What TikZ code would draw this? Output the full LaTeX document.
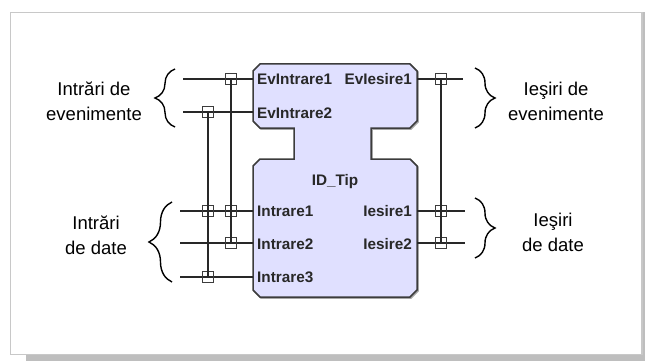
\documentclass[tikz,border=0pt]{standalone}
\usepackage{fontspec}
\setmainfont{Liberation Sans}
\usetikzlibrary{decorations.pathreplacing}
\definecolor{blockfill}{RGB}{224,224,255}
\definecolor{blockline}{RGB}{60,60,60}
\definecolor{wire}{RGB}{40,40,40}
\definecolor{framegray}{RGB}{200,200,200}
\definecolor{shadowgray}{RGB}{190,190,190}
\tikzset{
  wireline/.style={draw=wire, line width=1.3pt},
  jbox/.style={draw=blockline, line width=1.1pt, minimum size=11pt, inner sep=0pt, fill=none},
  portlbl/.style={font=\fontsize{15.3}{17}\bfseries\selectfont, text=wire, inner sep=0pt},
  sidelbl/.style={font=\fontsize{18.5}{25}\selectfont, align=center, inner sep=0pt},
  bracel/.style={decorate, decoration={brace, amplitude=#1}, line width=1.4pt, draw=black},
}
\begin{document}
\begin{tikzpicture}[x=1pt, y=-1pt]
\useasboundingbox (0,0) rectangle (645,361);
% frame
\fill[white] (0,0) rectangle (645,361);
\fill[shadowgray] (26,355) rectangle (645,361);
\fill[shadowgray] (642.5,12) rectangle (645,361);
\draw[framegray, line width=1.5pt] (10.5,12.5) rectangle (642,354.5);
% block
\def\blockpath{(260,64) -- (410,64) -- (417,71) -- (417,121) -- (410,128) -- (371,128) -- (371,159) -- (410,159) -- (417,166) -- (417,290) -- (410,297) -- (260,297) -- (253,290) -- (253,166) -- (260,159) -- (294,159) -- (294,128) -- (260,128) -- (253,121) -- (253,71) -- cycle}
\draw[gray!70, line width=1.5pt, shift={(1,1)}] \blockpath;
\draw[fill=blockfill, draw=blockline, line width=1.5pt] \blockpath;
% block texts
\node[portlbl, anchor=west] (tei1) at (257,79) {EvIntrare1};
\node[portlbl, anchor=west] (tei2) at (257,113) {EvIntrare2};
\node[portlbl, anchor=east] (teo1) at (412,79) {EvIesire1};
\node[portlbl] (ttype) at (335,182) {ID\_Tip};
\node[portlbl, anchor=west] (tdi1) at (257,211) {Intrare1};
\node[portlbl, anchor=west] (tdi2) at (257,244) {Intrare2};
\node[portlbl, anchor=west] (tdi3) at (257,277) {Intrare3};
\node[portlbl, anchor=east] (tdo1) at (412,211) {Iesire1};
\node[portlbl, anchor=east] (tdo2) at (412,244) {Iesire2};
% port end coordinates
\coordinate (ei1a) at (183,79);  \coordinate (ei1b) at (253,79);
\coordinate (ei2a) at (183,112); \coordinate (ei2b) at (253,112);
\coordinate (di1a) at (180,211); \coordinate (di1b) at (253,211);
\coordinate (di2a) at (180,243); \coordinate (di2b) at (253,243);
\coordinate (di3a) at (180,277); \coordinate (di3b) at (253,277);
\coordinate (eo1a) at (417,79);  \coordinate (eo1b) at (463,79);
\coordinate (do1a) at (417,211); \coordinate (do1b) at (465,211);
\coordinate (do2a) at (417,243); \coordinate (do2b) at (465,243);
% wires
\draw[wireline] (ei1a) -- (ei1b);
\draw[wireline] (ei2a) -- (ei2b);
\draw[wireline] (di1a) -- (di1b);
\draw[wireline] (di2a) -- (di2b);
\draw[wireline] (di3a) -- (di3b);
\draw[wireline] (eo1a) -- (eo1b);
\draw[wireline] (do1a) -- (do1b);
\draw[wireline] (do2a) -- (do2b);
% junction boxes
\node[jbox] (j1) at (231,79) {};
\node[jbox] (j2) at (208,112) {};
\node[jbox] (j3) at (208,211) {};
\node[jbox] (j4) at (231,211) {};
\node[jbox] (j5) at (231,243) {};
\node[jbox] (j6) at (208,277) {};
\node[jbox] (j7) at (441,79) {};
\node[jbox] (j8) at (441,211) {};
\node[jbox] (j9) at (441,243) {};
% associations
\draw[wireline] (j1.center) -- (j5.center);
\draw[wireline] (j2.center) -- (j6.center);
\draw[wireline] (j7.center) -- (j9.center);
% braces
\coordinate (bl1t) at (175,69);  \coordinate (bl1b) at (175,127);
\coordinate (bl2t) at (172,202); \coordinate (bl2b) at (172,282);
\coordinate (br1t) at (475,68);  \coordinate (br1b) at (475,128);
\coordinate (br2t) at (475,198); \coordinate (br2b) at (475,258);
\draw[bracel=20pt] (bl1b) -- (bl1t);
\draw[bracel=23pt] (bl2b) -- (bl2t);
\draw[bracel=20pt] (br1t) -- (br1b);
\draw[bracel=20pt] (br2t) -- (br2b);
% side labels
\node[sidelbl] (lei) at (94,101) {Intrări de\\evenimente};
\node[sidelbl] (ldi) at (96,235) {Intrări\\de date};
\node[sidelbl] (reo) at (556,101) {Ieşiri de\\evenimente};
\node[sidelbl] (rdo) at (553,232) {Ieşiri\\de date};
\end{tikzpicture}
\end{document}
